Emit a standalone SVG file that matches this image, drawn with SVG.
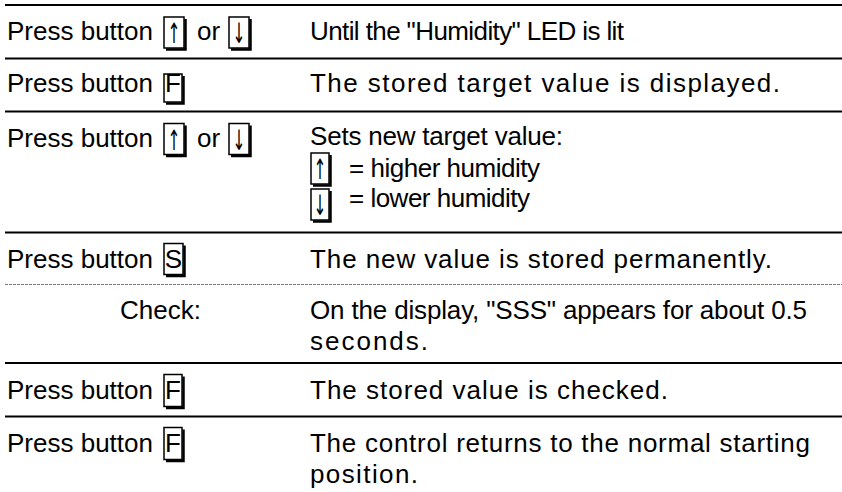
<svg xmlns="http://www.w3.org/2000/svg" width="842" height="492" viewBox="0 0 842 492">
<style>
text{font-family:"Liberation Sans",Arial,sans-serif;font-size:26px;fill:#000}
.sep{stroke:#000;stroke-width:2}
.dash{stroke:#777;stroke-width:1;stroke-dasharray:3 1}
.key rect{fill:#fff;stroke:#000;stroke-width:1.5}
.key path{fill:none;stroke:#000;stroke-width:2.5}
.k{text-anchor:middle}
.ar{font-family:"DejaVu Sans",sans-serif;font-size:28px;text-anchor:middle;fill:#000}
</style>
<rect width="842" height="492" fill="#fff"/>
<g id="lines">
<line class="sep" x1="5" y1="5" x2="842" y2="5"/>
<line class="sep" x1="5" y1="58.5" x2="842" y2="58.5"/>
<line class="sep" x1="5" y1="111.5" x2="842" y2="111.5"/>
<line class="sep" x1="5" y1="232.5" x2="842" y2="232.5"/>
<line class="dash" x1="5" y1="284.5" x2="842" y2="284.5"/>
<line class="sep" x1="5" y1="363" x2="842" y2="363"/>
<line class="sep" x1="5" y1="416.5" x2="842" y2="416.5"/>
</g>
<g id="row1">
<text x="7" y="40">Press button</text>
<g class="key"><rect x="164" y="17" width="20" height="31"/><path d="M185.5 19V49.5H166"/><text class="ar" transform="translate(174 43) scale(0.55 1)">↑</text></g>
<text x="197" y="40">or</text>
<g class="key"><rect x="229" y="17" width="20" height="31"/><path d="M250.5 19V49.5H231"/><text class="ar" transform="translate(239 43) scale(0.55 1)">↓</text></g>
<text x="310" y="40" textLength="314" lengthAdjust="spacing">Until the "Humidity" LED is lit</text>
</g>
<g id="row2">
<text x="7" y="92">Press button</text>
<g class="key"><rect x="164" y="74" width="18" height="28"/><path d="M183.5 76V103.5H166"/><text class="k" x="173" y="92">F</text></g>
<text x="310" y="92" textLength="470" lengthAdjust="spacing">The stored target value is displayed.</text>
</g>
<g id="row3">
<text x="7" y="147">Press button</text>
<g class="key"><rect x="164" y="123.5" width="20" height="31"/><path d="M185.5 125.5V156H166"/><text class="ar" transform="translate(174 149.5) scale(0.55 1)">↑</text></g>
<text x="197" y="147">or</text>
<g class="key"><rect x="229" y="123.5" width="20" height="31"/><path d="M250.5 125.5V156H231"/><text class="ar" transform="translate(239 149.5) scale(0.55 1)">↓</text></g>
<text x="310" y="145" textLength="253" lengthAdjust="spacing">Sets new target value:</text>
<g class="key"><rect x="311" y="153" width="18" height="31"/><path d="M330.5 155V185.5H313"/><text class="ar" transform="translate(320 179) scale(0.55 1)">↑</text></g>
<text x="349" y="177" textLength="191" lengthAdjust="spacing">= higher humidity</text>
<g class="key"><rect x="311" y="189" width="18" height="31"/><path d="M330.5 191V221.5H313"/><text class="ar" transform="translate(320 215) scale(0.55 1)">↓</text></g>
<text x="349" y="207" textLength="181" lengthAdjust="spacing">= lower humidity</text>
</g>
<g id="row4">
<text x="7" y="268">Press button</text>
<g class="key"><rect x="164" y="243.5" width="19" height="31"/><path d="M184.5 245.5V276H166"/><text class="k" x="173.5" y="268">S</text></g>
<text x="310" y="268" textLength="462" lengthAdjust="spacing">The new value is stored permanently.</text>
</g>
<g id="row5">
<text x="120" y="319">Check:</text>
<text x="310" y="319" textLength="497" lengthAdjust="spacing">On the display, "SSS" appears for about 0.5</text>
<text x="310" y="350" textLength="118" lengthAdjust="spacing">seconds.</text>
</g>
<g id="row6">
<text x="7" y="399">Press button</text>
<g class="key"><rect x="164" y="374.5" width="18" height="32"/><path d="M183.5 376.5V408H166"/><text class="k" x="173" y="399">F</text></g>
<text x="310" y="399" textLength="358" lengthAdjust="spacing">The stored value is checked.</text>
</g>
<g id="row7">
<text x="7" y="452">Press button</text>
<g class="key"><rect x="164" y="427.5" width="18" height="32"/><path d="M183.5 429.5V461H166"/><text class="k" x="173" y="452">F</text></g>
<text x="310" y="452" textLength="500" lengthAdjust="spacing">The control returns to the normal starting</text>
<text x="310" y="483" textLength="108" lengthAdjust="spacing">position.</text>
</g>
</svg>
